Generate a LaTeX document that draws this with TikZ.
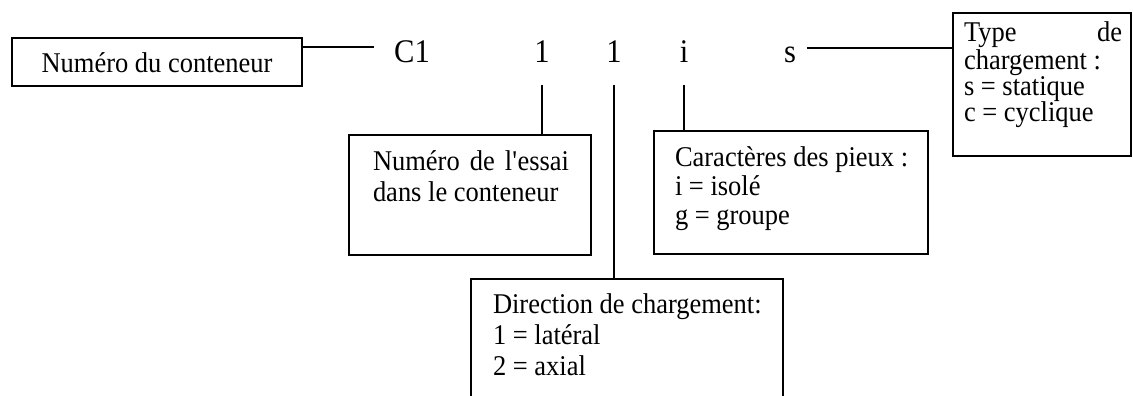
\documentclass[tikz,border=0pt]{standalone}
\usepackage{fontspec}
\setmainfont{Liberation Serif}[FakeStretch=0.926]
\newcommand\bxt[7]{\parbox[c][#1][t]{#2}{\hspace*{#3}\parbox[t]{#4}{\raggedright\baselineskip=#7\relax\rule{0pt}{#5}#6}}}
\begin{document}
\begin{tikzpicture}[x=1pt,y=-1pt,
  box/.style={draw, line width=1.6pt, rectangle, anchor=north west, inner sep=0pt, outer sep=0pt,
    font=\fontsize{28.6pt}{28pt}\selectfont},
  code/.style={anchor=base, inner sep=0pt, outer sep=0pt, font=\fontsize{33pt}{33pt}\selectfont},
  conn/.style={line width=1.6pt}]
\useasboundingbox (0,0) rectangle (1133,396);
\clip (0,0) rectangle (1133,396);

% boxes
\node[box] (n1) at (12,38) {\parbox[c][48pt][t]{290pt}{\centering\rule{0pt}{35pt}Numéro du conteneur}};
\node[box] (n2) at (349,135) {\bxt{120pt}{242pt}{24pt}{196pt}{35pt}{Numéro\hfill de\hfill l\textquotesingle essai\\dans le conteneur}{31pt}};
\node[box] (n3) at (654,131) {\bxt{123pt}{274pt}{21pt}{240pt}{35pt}{Caractères des pieux :\\i = isolé\\g = groupe}{29pt}};
\node[box] (n4) at (471,279) {\bxt{140pt}{312pt}{22pt}{280pt}{34pt}{Direction de chargement:\\1 = latéral\\2 = axial}{31pt}};
\node[box] (n5) at (953,13) {\bxt{143pt}{178pt}{11pt}{158pt}{29pt}{Type\hfill de\\chargement :\\s = statique\\c = cyclique}{26pt}};

% code characters
\node[code, inner xsep=20pt] (c1) at (412,63) {C1};
\node[code] (d1) at (542,63) {1};
\node[code] (d2) at (614,63) {1};
\node[code] (d3) at (684,63) {i};
\node[code, inner xsep=11pt] (d4) at (790,63) {s};

% connectors
\path (n1.north east) ++(0,9) coordinate (a1);
\draw[conn] (a1) -- (a1 -| c1.west);
\path (n5.north west) ++(0,35) coordinate (a5);
\draw[conn] (a5 -| d4.east) -- (a5);
\draw[conn] ([yshift=-22pt]d1.base) -- (d1.base |- n2.north);
\draw[conn] ([yshift=-22pt]d2.base) -- (d2.base |- n4.north);
\draw[conn] ([yshift=-22pt]d3.base) -- (d3.base |- n3.north);
\end{tikzpicture}
\end{document}
